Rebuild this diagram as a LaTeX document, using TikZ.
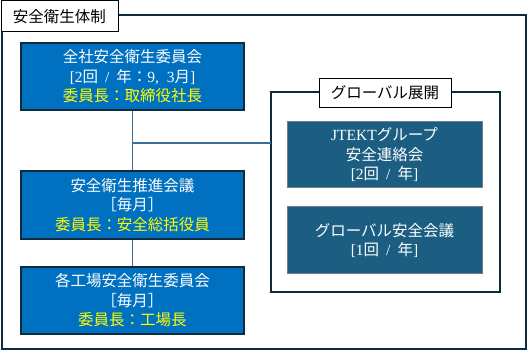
\documentclass[tikz,border=0pt]{standalone}
\usepackage{fontspec}
\setmainfont{Noto Sans CJK JP}
\newfontfamily\lat{Liberation Serif}
\newcommand{\slsep}{{\hspace{0.45em}\lat /\hspace{0.45em}}}
\definecolor{frame}{HTML}{0E2A3E}
\definecolor{bluefill}{HTML}{0070C0}
\definecolor{tealfill}{HTML}{1B5E82}
\definecolor{conn}{HTML}{3A6E96}
\definecolor{ylw}{HTML}{FFFF00}
\begin{document}
\begin{tikzpicture}[x=1pt,y=-1pt,
  bluebox/.style={draw=frame,line width=1.5pt,fill=bluefill,text=white,align=center,inner sep=0pt,font=\fontsize{15.5}{19.5}\selectfont},
  tealbox/.style={draw=frame!60,line width=1pt,fill=tealfill,text=white,align=center,inner sep=0pt,font=\fontsize{15.5}{19.5}\selectfont},
  labelbox/.style={draw=black,line width=0.8pt,fill=white,inner sep=0pt,font=\fontsize{15.5}{19}\selectfont},
  link/.style={draw=conn,line width=1.5pt}]
\useasboundingbox (0,0) rectangle (528,352);
\fill[white] (0,0) rectangle (528,352);
% outer frame
\draw[frame,line width=2pt] (1.5,15) rectangle (525.5,349.5);
\node[labelbox,minimum width=117pt,minimum height=31pt,anchor=north west] (title) at (0.5,0.5) {安全衛生体制};
% global frame
\draw[frame,line width=1.5pt] (271,92) rectangle (500,292);
% connectors
\coordinate (j) at (133,143);
\node[bluebox,minimum width=223pt,minimum height=67pt] (b1) at (132.5,76.5) {全社安全衛生委員会\\{\lat[2}回\slsep 年：{\lat 9,~~3}月{\lat ]}\\\textcolor{ylw}{委員長：取締役社長}};
\node[bluebox,minimum width=223pt,minimum height=68pt] (b2) at (132.5,205) {安全衛生推進会議\\［毎月］\\\textcolor{ylw}{委員長：安全総括役員}};
\node[bluebox,minimum width=223pt,minimum height=67pt] (b3) at (132.5,300.5) {各工場安全衛生委員会\\［毎月］\\\textcolor{ylw}{委員長：工場長}};
\coordinate (g) at (271,143);
\draw[link] (b1.south) -- (b2.north);
\draw[link] (b2.south) -- (b3.north);
\draw[link] (j) -- (g);
\node[labelbox,minimum width=132pt,minimum height=29pt] (glabel) at (385,92.5) {グローバル展開};
\node[tealbox,minimum width=195pt,minimum height=66pt] (g1) at (384.5,155) {{\lat JTEKT}グループ\\安全連絡会\\{\lat[2}回\slsep 年{\lat ]}};
\node[tealbox,minimum width=195pt,minimum height=67pt] (g2) at (384.5,240.5) {グローバル安全会議\\{\lat[1}回\slsep 年{\lat ]}};
\end{tikzpicture}
\end{document}
